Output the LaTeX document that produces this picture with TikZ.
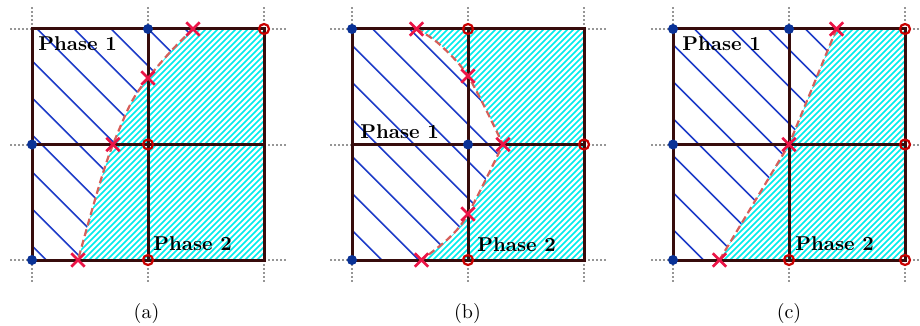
\documentclass[tikz,border=0pt]{standalone}
\usetikzlibrary{shapes.misc}
\definecolor{gridc}{RGB}{55,12,12}
\definecolor{dotgray}{RGB}{150,150,150}
\definecolor{hatchblue}{RGB}{30,60,200}
\definecolor{hatchcyan}{RGB}{0,235,235}
\definecolor{ifacec}{RGB}{215,95,90}
\definecolor{dotblue}{RGB}{10,50,150}
\definecolor{circred}{RGB}{200,0,0}
\definecolor{crossred}{RGB}{235,20,70}
\tikzset{
  gridline/.style={draw=gridc, line width=1.5pt},
  dotline/.style={draw=dotgray, line width=1pt, dash pattern=on 1pt off 1pt},
  hatchA/.style={draw=hatchblue, line width=0.75pt},
  hatchB/.style={draw=hatchcyan, line width=0.85pt},
  iface/.style={draw=ifacec, line width=1.1pt, dash pattern=on 3.5pt off 2pt},
  bdot/.style={circle, fill=dotblue, inner sep=0pt, minimum size=5pt},
  rcirc/.style={circle, draw=circred, line width=1.1pt, inner sep=0pt, minimum size=5pt},
  xmark/.style={cross out, draw=crossred, line width=1.3pt, inner sep=0pt, minimum size=5.4pt},
  phase/.style={font=\bfseries, anchor=base west, inner sep=0pt},
  capt/.style={anchor=base, inner sep=0pt},
}
\begin{document}
\begin{tikzpicture}[x=0.5pt,y=-0.5pt]
\useasboundingbox (0,0) rectangle (920,326);

% grid coordinates
\foreach \p/\L in {a/32,b/352,c/673}{
  \foreach \i in {0,1,2}{
    \foreach \j in {0,1,2}{
      \coordinate (\p-\i-\j) at ({\L+\i*116},{29+\j*115.5});
    }
  }
}

% interface points
\coordinate (ax1) at (193,29);
\coordinate (ax2) at (148,78);
\coordinate (ax3) at (113,144.5);
\coordinate (ax4) at (78,260);
\coordinate (bx1) at (416.5,29);
\coordinate (bx2) at (468,76);
\coordinate (bx3) at (503,144.5);
\coordinate (bx4) at (468,214);
\coordinate (bx5) at (421.5,260);
\coordinate (cx1) at (836.5,29);
\coordinate (cx2) at (789,144.5);
\coordinate (cx3) at (719.5,260);

% ---------- cyan hatching (phase 2 background) ----------
\foreach \p/\L in {a/32,b/352,c/673}{
  \begin{scope}
    \clip (\p-0-0) rectangle (\p-2-2);
    \foreach \k in {0,...,86}{
      \draw[hatchB] ({\L+29+\k*6},0) -- ({\L+29+\k*6-300},300);
    }
  \end{scope}
}

% ---------- phase 1 regions ----------
% panel a
\fill[white] (a-0-0) -- plot[smooth] coordinates {(ax1) (172,50) (ax2) (131,103) (ax3) (103,173) (90,217) (ax4)} -- (a-0-2) -- cycle;
\begin{scope}
  \clip (a-0-0) -- plot[smooth] coordinates {(ax1) (172,50) (ax2) (131,103) (ax3) (103,173) (90,217) (ax4)} -- (a-0-2) -- cycle;
  \foreach \k in {-8,...,8}{
    \draw[hatchA] ({-28.7+\k*37},0) -- ({-28.7+\k*37+300},300);
  }
\end{scope}
% panel b
\fill[white] (b-0-0) -- plot[smooth, tension=0.5] coordinates {(bx1) (438,43) (bx2) (bx3)} -- plot[smooth, tension=0.5] coordinates {(bx3) (bx4) (449,238) (bx5)} -- (b-0-2) -- cycle;
\begin{scope}
  \clip (b-0-0) -- plot[smooth, tension=0.5] coordinates {(bx1) (438,43) (bx2) (bx3)} -- plot[smooth, tension=0.5] coordinates {(bx3) (bx4) (449,238) (bx5)} -- (b-0-2) -- cycle;
  \foreach \k in {-8,...,8}{
    \draw[hatchA] ({306.8+\k*37},0) -- ({306.8+\k*37+300},300);
  }
\end{scope}
% panel c
\fill[white] (c-0-0) -- (cx1) -- (cx2) -- (cx3) -- (c-0-2) -- cycle;
\begin{scope}
  \clip (c-0-0) -- (cx1) -- (cx2) -- (cx3) -- (c-0-2) -- cycle;
  \foreach \k in {-8,...,8}{
    \draw[hatchA] ({628.5+\k*37},0) -- ({628.5+\k*37+300},300);
  }
\end{scope}

% ---------- dotted extensions and grid ----------
\foreach \p in {a,b,c}{
  \foreach \i in {0,1,2}{
    \draw[dotline] (\p-\i-0) -- ++(0,-23);
    \draw[dotline] (\p-\i-2) -- ++(0,24);
    \draw[dotline] (\p-0-\i) -- ++(-24,0);
    \draw[dotline] (\p-2-\i) -- ++(24,0);
  }
  \draw[gridline] (\p-0-0) rectangle (\p-2-2);
  \draw[gridline] (\p-1-0) -- (\p-1-2);
  \draw[gridline] (\p-0-1) -- (\p-2-1);
}

% ---------- interfaces ----------
\draw[iface] plot[smooth] coordinates {(ax1) (172,50) (ax2) (131,103) (ax3) (103,173) (90,217) (ax4)};
\draw[iface] plot[smooth, tension=0.5] coordinates {(bx1) (438,43) (bx2) (bx3)} -- plot[smooth, tension=0.5] coordinates {(bx3) (bx4) (449,238) (bx5)};
\draw[iface] (cx1) -- (cx2) -- (cx3);

% ---------- markers ----------
% panel a
\node[bdot] (a-d1) at (a-1-0) {};
\node[bdot] (a-d2) at (a-0-1) {};
\node[bdot] (a-d3) at (a-0-2) {};
\node[rcirc] (a-r1) at (a-2-0) {};
\node[rcirc] (a-r2) at (a-1-1) {};
\node[rcirc] (a-r3) at (a-1-2) {};
\node[xmark] (a-x1) at (ax1) {};
\node[xmark] (a-x2) at (ax2) {};
\node[xmark] (a-x3) at (ax3) {};
\node[xmark] (a-x4) at (ax4) {};
% panel b
\node[bdot] (b-d1) at (b-0-0) {};
\node[bdot] (b-d2) at (b-1-1) {};
\node[bdot] (b-d3) at (b-0-2) {};
\node[rcirc] (b-r1) at (b-1-0) {};
\node[rcirc] (b-r2) at (b-2-1) {};
\node[rcirc] (b-r3) at (b-1-2) {};
\node[xmark] (b-x1) at (bx1) {};
\node[xmark] (b-x2) at (bx2) {};
\node[xmark] (b-x3) at (bx3) {};
\node[xmark] (b-x4) at (bx4) {};
\node[xmark] (b-x5) at (bx5) {};
% panel c
\node[bdot] (c-d1) at (c-0-0) {};
\node[bdot] (c-d2) at (c-1-0) {};
\node[bdot] (c-d3) at (c-0-1) {};
\node[bdot] (c-d4) at (c-0-2) {};
\node[rcirc] (c-r1) at (c-2-0) {};
\node[rcirc] (c-r2) at (c-2-1) {};
\node[rcirc] (c-r3) at (c-1-2) {};
\node[rcirc] (c-r4) at (c-2-2) {};
\node[xmark] (c-x1) at (cx1) {};
\node[xmark] (c-x2) at (cx2) {};
\node[xmark] (c-x3) at (cx3) {};

% ---------- labels ----------
\node[phase] (a-ph1) at (38,51) {Phase 1};
\node[phase] (a-ph2) at (153,250) {Phase 2};
\node[phase] (b-ph1) at (360,138) {Phase 1};
\node[phase] (b-ph2) at (477,251) {Phase 2};
\node[phase] (c-ph1) at (682,51) {Phase 1};
\node[phase] (c-ph2) at (795,250) {Phase 2};
\node[capt] (a-cap) at (146.5,318.5) {(a)};
\node[capt] (b-cap) at (467.5,318.5) {(b)};
\node[capt] (c-cap) at (789,318.5) {(c)};
\end{tikzpicture}
\end{document}
